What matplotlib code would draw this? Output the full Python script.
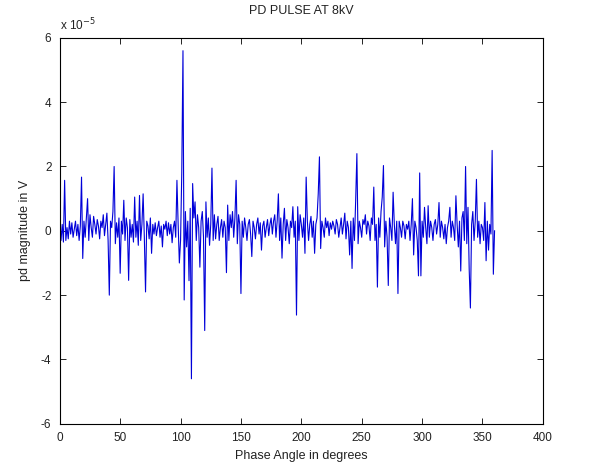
import matplotlib
matplotlib.use("Agg")
from matplotlib import pyplot as plt
import numpy as np

# phase angle, one sample per degree
phase_deg = np.arange(0, 361)

# pd magnitude in units of 1e-5 V (rows of 20 degrees)
pd_mag_e5 = [
    # 0-19
    0.0, -0.3, 0.2, -0.35, 1.57, -0.3, 0.1, -0.25, 0.3, -0.1,
    0.25, -0.2, 0.05, 0.3, -0.15, 0.2, -0.3, 0.15, 1.67, -0.86,
    # 20-39
    0.3, -0.2, 0.4, 1.0, -0.3, 0.5, 0.1, -0.2, 0.45, 0.2,
    -0.1, 0.35, 0.15, -0.25, 0.3, 0.1, 0.5, -0.15, 0.2, 0.55,
    # 40-59
    -0.3, -2.0, 0.3, 0.1, 0.6, 2.0, -0.4, 0.25, -0.2, 0.4,
    -1.32, 0.3, -0.1, 0.95, -0.3, 0.4, 0.1, -1.54, 0.35, -0.2,
    # 60-79
    0.2, -0.35, 1.05, -0.2, 0.3, -0.45, 1.1, -0.3, 0.2, 1.15,
    -0.2, -1.9, 0.3, 0.15, -0.25, 0.4, -0.7, 0.2, -0.1, 0.25,
    # 80-99
    -0.15, 0.1, 0.3, -0.2, 0.15, -0.5, 0.2, 0.05, 0.3, -0.15,
    0.25, -0.1, 0.2, -0.37, 0.1, 0.3, -0.2, 1.57, 0.2, -1.0,
    # 100-119
    -0.3, 1.8, 5.6, -2.15, 0.6, -0.5, 0.3, -1.55, 0.7, -4.6,
    1.47, 0.4, 0.9, -0.3, 0.5, 0.1, -1.13, 0.3, 0.6, -0.2,
    # 120-139
    -3.1, 0.9, -0.2, 0.4, -0.45, 0.2, 1.95, -0.3, 0.5, -0.25,
    0.2, 0.45, -0.3, 0.1, 0.35, -0.2, 0.3, 0.1, -1.3, 0.8,
    # 140-159
    -0.3, 0.5, 0.1, 0.6, -0.2, 0.4, 1.57, -0.4, 0.5, 0.2,
    -1.95, 0.3, -0.2, 0.4, 0.1, -0.3, 0.2, 0.35, -0.1, -0.8,
    # 160-179
    0.3, 0.1, -0.25, 0.2, 0.4, -0.1, 0.25, -0.6, 0.15, 0.3,
    -0.2, 0.1, 0.35, -0.15, 0.2, 0.4, -0.1, 0.3, 0.5, -0.2,
    # 180-199
    0.3, 1.15, -0.3, 0.4, -0.85, 0.2, 0.7, -0.3, 0.35, 0.1,
    -0.4, 0.3, 0.1, 0.75, -0.2, 0.3, -2.62, 0.75, -0.3, 0.5,
    # 200-219
    0.2, -0.2, 0.4, -0.7, 1.67, 0.3, -0.3, 0.2, 0.45, -0.2,
    0.3, -0.7, 0.2, 0.4, 1.15, 2.3, -0.55, 0.3, 0.1, -0.2,
    # 220-239
    0.4, 0.1, 0.3, -0.15, 0.25, 0.05, 0.3, 0.15, -0.1, 0.35,
    0.2, -0.2, 0.1, 0.4, -0.1, 0.2, 0.55, -0.25, 0.3, 0.1,
    # 240-259
    -0.75, 0.3, -1.17, 0.4, -0.3, 0.95, 2.4, -0.4, 0.3, 0.1,
    -0.2, 0.35, 0.2, 0.5, -0.1, 0.3, 0.15, -0.3, 0.4, 0.2,
    # 260-279
    1.36, -0.3, 0.2, -1.75, 0.4, -0.2, 0.6, 1.05, 2.03, -0.5,
    0.3, -0.2, -1.7, 0.4, 0.1, -0.3, 1.2, 0.2, -0.4, 0.3,
    # 280-299
    -1.95, 0.3, 0.1, -0.2, 0.3, 0.15, -0.25, 0.2, 0.05, 0.3,
    -0.3, 0.2, 1.0, -0.75, 0.3, 0.1, -0.3, -1.4, 1.8, -1.4,
    # 300-319
    0.3, -0.2, 0.73, 0.1, -0.4, 0.78, -0.2, 0.3, 0.1, -0.3,
    0.2, 0.35, -0.1, 0.2, 0.88, -0.2, 0.3, 0.1, -0.25, 0.2,
    # 320-339
    -0.4, 0.1, 0.3, 0.73, -0.2, 0.3, 0.1, -0.3, 1.09, 0.2,
    -0.5, 0.3, -1.25, 0.4, 0.6, -0.3, 2.0, -0.4, 0.73, -1.2,
    # 340-359
    -2.4, 0.2, 0.6, -0.3, 0.3, 1.6, -0.2, 0.3, -0.4, 0.2,
    0.1, -0.3, 0.88, -0.93, 0.3, -0.6, 0.2, -0.1, 2.5, -1.35,
    # 360
    0.0,
]

x_ticks = [0, 50, 100, 150, 200, 250, 300, 350, 400]
y_ticks = [-6, -4, -2, 0, 2, 4, 6]

plt.rcParams['font.family'] = ['Liberation Sans', 'DejaVu Sans']
plt.rcParams['axes.unicode_minus'] = False

fig = plt.figure(figsize=(5.92, 4.73), dpi=100)
ax = fig.add_axes([0.101, 0.104, 0.816, 0.816])

ax.plot(phase_deg, pd_mag_e5, color=(0, 0, 0.85), linewidth=0.8)

ax.set_xlim(0, 400)
ax.set_ylim(-6, 6)
ax.set_xticks(x_ticks)
ax.set_yticks(y_ticks)

ax.tick_params(direction='in', top=True, right=True, labelsize=8.5,
               length=4, width=0.6, pad=6, labelcolor='#222222')
for sp in ax.spines.values():
    sp.set_linewidth(0.8)

ax.set_title("PD PULSE AT 8kV", fontsize=9, pad=17, color='#222222')
ax.set_xlabel("Phase Angle in degrees", fontsize=9, labelpad=4, color='#222222')
ax.set_ylabel("pd magnitude in V", fontsize=9, labelpad=7, color='#222222')
ax.text(0.0, 1.012, "x 10$^{-5}$", transform=ax.transAxes,
        fontsize=8.5, ha='left', va='bottom', color='#222222')

fig.savefig("out.png", dpi=100)
